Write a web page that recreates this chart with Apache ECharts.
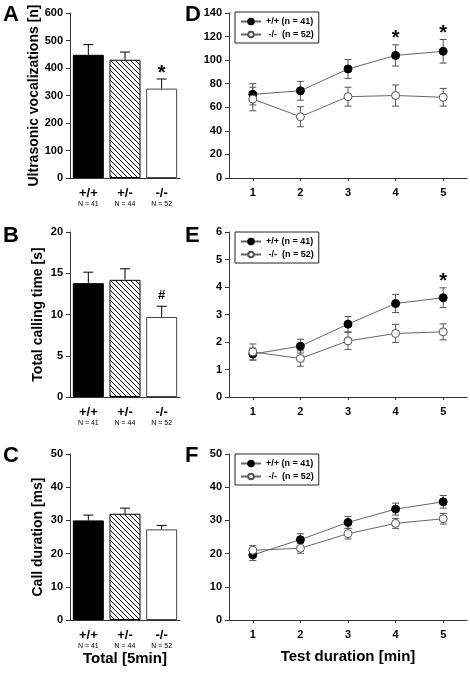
<!DOCTYPE html>
<html>
<head>
<meta charset="utf-8">
<script src="https://cdn.jsdelivr.net/npm/echarts@6/dist/echarts.min.js"></script>
<style>html,body{margin:0;padding:0;background:#fff}#c{width:470px;height:673px}</style>
</head>
<body>
<div id="c"></div>
<script>
// ---------- data ----------
const genotypes = ['+/+', '+/-', '-/-'];
const nLabels = ['N = 41', 'N = 44', 'N = 52'];
const usvMean = [448, 430, 325];
const usvSE = [37, 28, 35];
const usvSig = ['', '', '*'];
const callTimeMean = [13.8, 14.2, 9.7];
const callTimeSE = [1.33, 1.34, 1.3];
const callTimeSig = ['', '', '#'];
const callDurMean = [30.0, 32.0, 27.3];
const callDurSE = [1.6, 1.7, 1.2];
const callDurSig = ['', '', ''];

const minutes = ['1', '2', '3', '4', '5'];
const wtName = '+/+ (n = 41)';
const koName = ' -/-  (n = 52)';
const usvWt = [71, 74, 92.5, 104, 107.5];
const usvWtSE = [9, 8, 8, 9, 10];
const usvKo = [67, 52, 69, 70, 68.5];
const usvKoSE = [10, 8.5, 8, 9, 7.5];
const usvMinSig = ['', '', '', '*', '*'];
const timeWt = [1.56, 1.85, 2.65, 3.40, 3.61];
const timeWtSE = [0.22, 0.25, 0.28, 0.33, 0.36];
const timeKo = [1.64, 1.40, 2.04, 2.31, 2.37];
const timeKoSE = [0.29, 0.28, 0.31, 0.33, 0.29];
const timeMinSig = ['', '', '', '', '*'];
const durWt = [19.6, 24.2, 29.4, 33.4, 35.6];
const durWtSE = [1.7, 1.8, 1.8, 1.8, 1.9];
const durKo = [21.0, 21.6, 26.0, 29.1, 30.5];
const durKoSE = [1.4, 1.5, 1.6, 1.5, 1.6];
const durMinSig = ['', '', '', '', ''];

// ---------- styling ----------
const FF = '"Liberation Sans", Arial, sans-serif';
const AX = '#333';

function hatchCanvas() {
  const s = 5;
  const c = document.createElement('canvas');
  c.width = s; c.height = s;
  const g = c.getContext('2d');
  g.fillStyle = '#fff'; g.fillRect(0, 0, s, s);
  g.strokeStyle = '#000'; g.lineWidth = 1;
  g.beginPath();
  g.moveTo(0, 0); g.lineTo(s, s);
  g.moveTo(-1, s - 1); g.lineTo(1, s + 1);
  g.moveTo(s - 1, -1); g.lineTo(s + 1, 1);
  g.stroke();
  return c;
}
const hatch = hatchCanvas();
const barFills = ['#000', { image: hatch, repeat: 'repeat' }, '#fff'];

const grids = [
  { left: 70, top: 13, width: 110, height: 165 },
  { left: 229, top: 13, width: 238, height: 165 },
  { left: 70, top: 232, width: 110, height: 165 },
  { left: 229, top: 232, width: 238, height: 165 },
  { left: 70, top: 454, width: 110, height: 166 },
  { left: 229, top: 454, width: 238, height: 166 }
].map(g => Object.assign({ outerBoundsMode: 'none', containLabel: false }, g));

function yAxis(gi, max, interval, name) {
  return {
    type: 'value', gridIndex: gi, min: 0, max: max, interval: interval,
    name: name || '', nameLocation: 'middle', nameGap: 25,
    nameTextStyle: { fontFamily: FF, fontSize: 14, fontWeight: 'bold', color: '#000' },
    axisLine: { show: true, lineStyle: { color: AX, width: 1 } },
    axisTick: { show: true, length: 4, lineStyle: { color: AX } },
    axisLabel: { fontFamily: FF, fontSize: 11, fontWeight: 'bold', color: '#000', margin: 7 },
    splitLine: { show: false }
  };
}
function xBar(gi, name) {
  return {
    type: 'category', gridIndex: gi, data: genotypes,
    name: name || '', nameLocation: 'middle', nameGap: 29,
    nameTextStyle: { fontFamily: FF, fontSize: 15, fontWeight: 'bold', color: '#000' },
    axisLine: { show: true, lineStyle: { color: AX, width: 1 } },
    axisTick: { show: false },
    axisLabel: {
      margin: 9, interval: 0,
      formatter: (v, i) => '{a|' + v + '}\n{b|' + nLabels[i] + '}',
      rich: {
        a: { fontFamily: FF, fontSize: 13, fontWeight: 'bold', color: '#000', lineHeight: 13 },
        b: { fontFamily: FF, fontSize: 7, color: '#000', lineHeight: 9 }
      }
    }
  };
}
function xLine(gi, name) {
  return {
    type: 'category', gridIndex: gi, data: minutes, boundaryGap: true,
    name: name || '', nameLocation: 'middle', nameGap: 29,
    nameTextStyle: { fontFamily: FF, fontSize: 15, fontWeight: 'bold', color: '#000' },
    axisLine: { show: true, lineStyle: { color: AX, width: 1 } },
    axisTick: { show: true, alignWithLabel: true, length: 3, lineStyle: { color: AX } },
    axisLabel: { fontFamily: FF, fontSize: 11, fontWeight: 'bold', color: '#000', margin: 9 }
  };
}

function errSeries(ai, means, ses, sig, opts) {
  return {
    type: 'custom', xAxisIndex: ai, yAxisIndex: ai, z: opts.z || 4, silent: true,
    data: means.map((m, i) => [i, m, ses[i]]),
    renderItem: function (params, api) {
      const i = api.value(0), m = api.value(1), se = api.value(2);
      const top = api.coord([i, m + se]);
      const mid = api.coord([i, m]);
      const bot = opts.both ? api.coord([i, m - se]) : mid;
      const x = top[0], hw = opts.cap / 2;
      const st = { stroke: opts.color, lineWidth: 1 };
      const ch = [
        { type: 'line', shape: { x1: x, y1: top[1], x2: x, y2: bot[1] }, style: st },
        { type: 'line', shape: { x1: x - hw, y1: top[1], x2: x + hw, y2: top[1] }, style: st }
      ];
      if (opts.both) ch.push({ type: 'line', shape: { x1: x - hw, y1: bot[1], x2: x + hw, y2: bot[1] }, style: st });
      const s = sig[params.dataIndex];
      if (s) {
        const big = s === '*';
        ch.push({
          type: 'text',
          style: {
            text: s, x: x, y: top[1] - (big ? 6 : 11), align: 'center', verticalAlign: 'middle',
            font: 'bold ' + (big ? 20 : 13) + 'px ' + FF, fill: '#000'
          }
        });
      }
      return { type: 'group', children: ch };
    }
  };
}

function barSeries(ai, means) {
  return {
    type: 'bar', xAxisIndex: ai, yAxisIndex: ai, barWidth: 31, z: 2, silent: true,
    data: means.map((v, i) => ({ value: v, itemStyle: { color: barFills[i], borderColor: i === 2 ? '#444' : '#000', borderWidth: 1 } }))
  };
}

function lineSeries(ai, name, vals, filled) {
  return {
    type: 'line', name: name, xAxisIndex: ai, yAxisIndex: ai, data: vals, z: 5, silent: true,
    symbol: 'circle', symbolSize: 8, showSymbol: true,
    lineStyle: { color: '#666', width: 1 },
    itemStyle: filled ? { color: '#000', borderColor: '#000', borderWidth: 1 } : { color: '#fff', borderColor: '#555', borderWidth: 1 }
  };
}

function legendAt(top) {
  return {
    data: [wtName, koName], orient: 'vertical', left: 235, top: top,
    itemWidth: 20, itemHeight: 7, itemGap: 4, selectedMode: false,
    borderColor: '#222', borderWidth: 1, borderRadius: 0, padding: [5, 5, 4, 5],
    textStyle: { fontFamily: FF, fontSize: 9, fontWeight: 'bold', color: '#000' }
  };
}

function letter(t, left, top) {
  return { text: t, left: left, top: top, padding: 0, textStyle: { fontFamily: FF, fontSize: 22, fontWeight: 'bold', color: '#000' } };
}

const option = {
  animation: false,
  backgroundColor: '#fff',
  title: [letter('A', 3, 4), letter('D', 185, 4), letter('B', 3, 225), letter('E', 185, 225), letter('C', 3, 445), letter('F', 185, 445)],
  legend: [legendAt(12), legendAt(232), legendAt(454)],
  grid: grids,
  xAxis: [xBar(0), xLine(1), xBar(2), xLine(3), xBar(4, 'Total [5min]'), xLine(5, 'Test duration [min]')],
  yAxis: [
    yAxis(0, 600, 100, 'Ultrasonic vocalizations [n]'),
    yAxis(1, 140, 20),
    yAxis(2, 20, 5, 'Total calling time [s]'),
    yAxis(3, 6, 1),
    yAxis(4, 50, 10, 'Call duration [ms]'),
    yAxis(5, 50, 10)
  ],
  series: [
    barSeries(0, usvMean), errSeries(0, usvMean, usvSE, usvSig, { cap: 10, color: '#000', both: false }),
    barSeries(2, callTimeMean), errSeries(2, callTimeMean, callTimeSE, callTimeSig, { cap: 10, color: '#000', both: false }),
    barSeries(4, callDurMean), errSeries(4, callDurMean, callDurSE, callDurSig, { cap: 10, color: '#000', both: false }),

    errSeries(1, usvWt, usvWtSE, usvMinSig, { cap: 7, color: '#555', both: true, z: 3 }),
    errSeries(1, usvKo, usvKoSE, ['', '', '', '', ''], { cap: 7, color: '#555', both: true, z: 3 }),
    lineSeries(1, wtName, usvWt, true), lineSeries(1, koName, usvKo, false),

    errSeries(3, timeWt, timeWtSE, timeMinSig, { cap: 7, color: '#555', both: true, z: 3 }),
    errSeries(3, timeKo, timeKoSE, ['', '', '', '', ''], { cap: 7, color: '#555', both: true, z: 3 }),
    lineSeries(3, wtName, timeWt, true), lineSeries(3, koName, timeKo, false),

    errSeries(5, durWt, durWtSE, durMinSig, { cap: 7, color: '#555', both: true, z: 3 }),
    errSeries(5, durKo, durKoSE, ['', '', '', '', ''], { cap: 7, color: '#555', both: true, z: 3 }),
    lineSeries(5, wtName, durWt, true), lineSeries(5, koName, durKo, false)
  ]
};

const chart = echarts.init(document.getElementById('c'), null, { renderer: 'canvas' });
chart.setOption(option);
</script>
</body>
</html>
